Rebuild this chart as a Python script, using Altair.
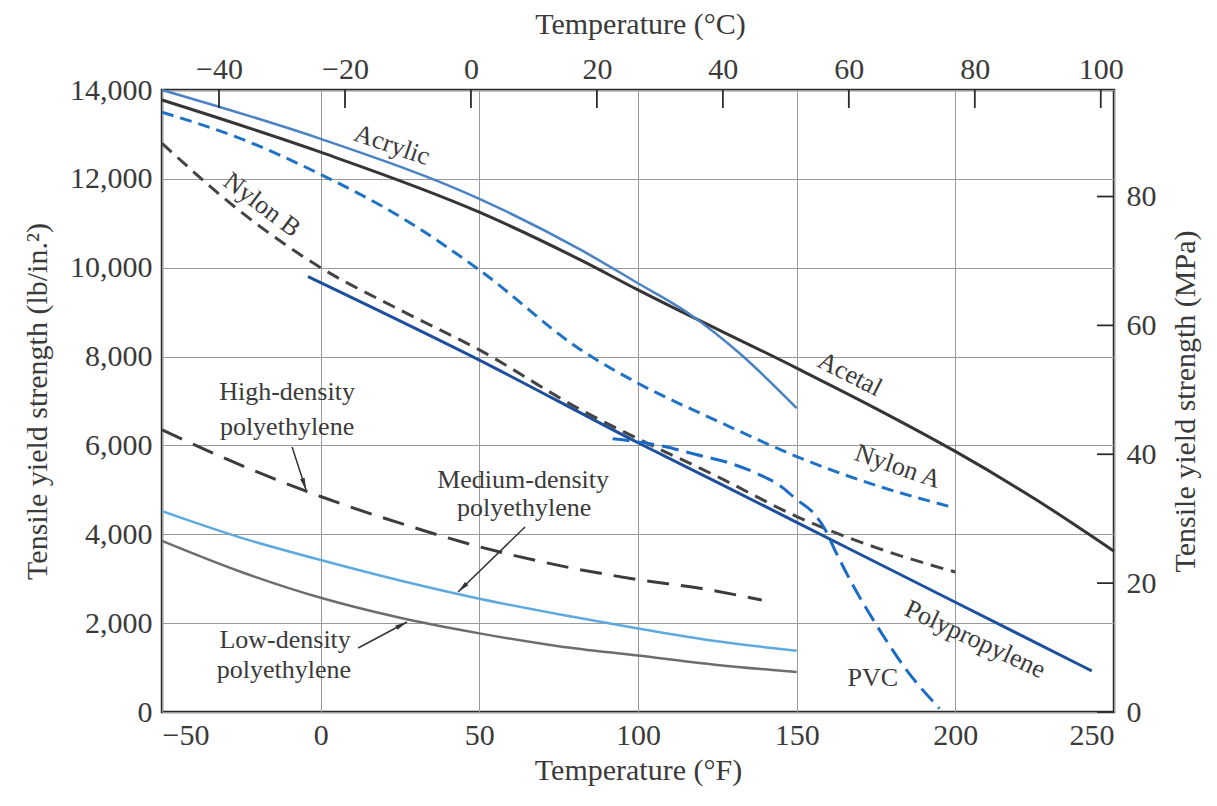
import math
import altair as alt
import pandas as pd

FONT = "Liberation Serif"
INK = "#3a3a3a"
W, H = 952, 622

# ---------------- axes ----------------
f_domain = [-50, 250]
psi_domain = [0, 14000]
f_ticks = [-50, 0, 50, 100, 150, 200, 250]
psi_ticks = [0, 2000, 4000, 6000, 8000, 10000, 12000, 14000]
c_domain = [-49.05, 102.1]
c_ticks = [-40, -20, 0, 20, 40, 60, 80, 100]
mpa_domain = [0, 96.53]
mpa_ticks = [0, 20, 40, 60, 80]

# ---------------- series (°F, psi) ----------------
acrylic_f = [-50, 0, 50, 82, 100, 116, 132, 150]
acrylic_psi = [14000, 12900, 11550, 10400, 9650, 8970, 8075, 6840]

acetal_f = [-50, 0, 50, 82, 100, 150, 175, 200, 225, 250]
acetal_psi = [13775, 12600, 11250, 10170, 9500, 7740, 6830, 5865, 4800, 3620]

nylon_a_f = [-50, -25, 0, 25, 50, 82, 100, 125, 150, 175, 198]
nylon_a_psi = [13500, 12900, 12100, 11150, 9950, 8150, 7400, 6550, 5750, 5100, 4630]

nylon_b_f = [-50, -25, 0, 25, 50, 82, 100, 125, 150, 175, 200]
nylon_b_psi = [12800, 11250, 10000, 9050, 8150, 6800, 6150, 5300, 4400, 3700, 3150]

polyprop_f = [-4, 50, 100, 125, 150, 200, 243]
polyprop_psi = [9800, 7920, 6060, 5170, 4270, 2470, 925]

pvc_f = [92, 100, 108, 118, 129, 138, 145, 150, 155, 159, 162, 168, 176, 185, 195]
pvc_psi = [6150, 6080, 5980, 5800, 5600, 5350, 5080, 4780, 4500, 4100, 3650, 2820, 1860, 910, 80]

hdpe_f = [-50, -25, 0, 25, 50, 75, 100, 120, 139]
hdpe_psi = [6350, 5550, 4850, 4250, 3720, 3300, 2980, 2780, 2520]

mdpe_f = [-50, -25, 0, 25, 50, 75, 100, 125, 150]
mdpe_psi = [4520, 3920, 3420, 2960, 2550, 2200, 1880, 1590, 1380]

ldpe_f = [-50, -25, 0, 25, 50, 75, 100, 125, 150]
ldpe_psi = [3850, 3150, 2570, 2120, 1770, 1480, 1270, 1060, 900]

# ---------------- annotations ----------------
label_text = ["Acrylic", "Nylon B", "Acetal", "Nylon A", "Polypropylene", "PVC",
              "High-density", "polyethylene", "Medium-density", "polyethylene",
              "Low-density", "polyethylene"]
label_f = [22.5, -18.5, 166.8, 181.9, 206.2, 174.0, -10.6, -10.6, 63.8, 64.1, -11.2, -11.6]
label_psi = [12760, 11413, 7600, 5528, 1636, 773, 7203, 6415, 5222, 4592, 1621, 945]
label_angle = [19, 37, 27, 19, 25, 0, 0, 0, 0, 0, 0, 0]

arrow_f = [-9.0, 64.4, 11.8]
arrow_psi = [5965, 4164, 1441]
arrow_f2 = [-4.6, 43.3, 27.2]
arrow_psi2 = [4997, 2701, 2026]

# ---------------- encodings ----------------
x_scale = alt.Scale(domain=f_domain, nice=False, zero=False)
y_scale = alt.Scale(domain=psi_domain, nice=False, zero=False)
x_enc = alt.X("F:Q", scale=x_scale,
              axis=alt.Axis(orient="bottom", values=f_ticks, ticks=False, tickSize=0, domain=False,
                            grid=True, gridColor="#9a9a9a", gridWidth=1,
                            labelFont=FONT, labelFontSize=30, labelColor=INK, labelPadding=8,
                            title="Temperature (°F)", titleFont=FONT, titleFontSize=30,
                            titleFontWeight="normal", titleColor=INK,
                            titleX=W / 2, titleY=67, titleBaseline="alphabetic", titleAlign="center"))
y_enc = alt.Y("psi:Q", scale=y_scale,
              axis=alt.Axis(orient="left", values=psi_ticks, format=",d", ticks=False, tickSize=0,
                            domain=False, grid=True, gridColor="#9a9a9a", gridWidth=1,
                            labelFont=FONT, labelFontSize=30, labelColor=INK, labelPadding=10,
                            title="Tensile yield strength (lb/in.²)", titleFont=FONT, titleFontSize=30,
                            titleFontWeight="normal", titleColor=INK,
                            titleX=-125, titleY=H / 2, titleAngle=270,
                            titleAlign="center", titleBaseline="middle"))


def series(fs, ps):
    return pd.DataFrame({"F": fs, "psi": ps})


def line(fs, ps, color, width, dash=None):
    kw = dict(color=color, strokeWidth=width, interpolate="monotone")
    if dash:
        kw["strokeDash"] = dash
    return alt.Chart(series(fs, ps)).mark_line(**kw).encode(x=x_enc, y=y_enc)


lines = [
    line(ldpe_f, ldpe_psi, "#6d6d6d", 2.5),
    line(mdpe_f, mdpe_psi, "#5ea9de", 2.5),
    line(hdpe_f, hdpe_psi, "#3c3c3c", 3, [22, 12]),
    line(polyprop_f, polyprop_psi, "#1d4f9c", 3),
    line(nylon_b_f, nylon_b_psi, "#444444", 3, [13, 8]),
    line(pvc_f, pvc_psi, "#1b6cc6", 3, [17, 8]),
    line(nylon_a_f, nylon_a_psi, "#1f72c4", 3, [12, 7]),
    line(acetal_f, acetal_psi, "#353535", 3),
    line(acrylic_f, acrylic_psi, "#4b82c3", 2.5),
]

labels_df = pd.DataFrame({"text": label_text, "F": label_f, "psi": label_psi, "angle": label_angle})
labels = alt.Chart(labels_df).mark_text(font=FONT, fontSize=26, color=INK, align="center",
                                        baseline="middle").encode(
    x=x_enc, y=y_enc, text="text:N", angle=alt.Angle("angle:Q", scale=None))

px_f = W / (f_domain[1] - f_domain[0])
px_psi = H / (psi_domain[1] - psi_domain[0])
head_angle = []
for f1, p1, f2, p2 in zip(arrow_f, arrow_psi, arrow_f2, arrow_psi2):
    dx = (f2 - f1) * px_f
    dy = -(p2 - p1) * px_psi
    head_angle.append(math.degrees(math.atan2(dx, -dy)) % 360)

shafts_df = pd.DataFrame({"F": arrow_f, "psi": arrow_psi, "F2": arrow_f2, "psi2": arrow_psi2})
shafts = alt.Chart(shafts_df).mark_rule(color="#333333", strokeWidth=1.5).encode(
    x=x_enc, y=y_enc, x2="F2:Q", y2="psi2:Q")

heads_df = pd.DataFrame({"F": arrow_f2, "psi": arrow_psi2, "angle": head_angle})
heads = alt.Chart(heads_df).mark_point(shape="M0,0L0.4,2L-0.4,2Z", filled=True, size=144,
                                       color="#333333", opacity=1).encode(
    x=x_enc, y=y_enc, angle=alt.Angle("angle:Q", scale=None))

main = alt.layer(*lines, shafts, heads, labels)

# top axis (°C) with inward ticks
top_df = pd.DataFrame({"C": c_ticks})
top = alt.Chart(top_df).mark_rule(color="#2b2b2b", strokeWidth=1.8).encode(
    x=alt.X("C:Q", scale=alt.Scale(domain=c_domain, nice=False, zero=False),
            axis=alt.Axis(orient="top", values=c_ticks, ticks=False, tickSize=0, domain=False, grid=False,
                          labelFont=FONT, labelFontSize=30, labelColor=INK, labelPadding=6,
                          title="Temperature (°C)", titleFont=FONT, titleFontSize=30,
                          titleFontWeight="normal", titleColor=INK,
                          titleX=478, titleY=-57, titleBaseline="alphabetic", titleAlign="center")),
    y=alt.value(0), y2=alt.value(18))

# right axis (MPa) with inward ticks
right_df = pd.DataFrame({"MPa": mpa_ticks})
right = alt.Chart(right_df).mark_rule(color="#2b2b2b", strokeWidth=1.8).encode(
    y=alt.Y("MPa:Q", scale=alt.Scale(domain=mpa_domain, nice=False, zero=False),
            axis=alt.Axis(orient="right", values=mpa_ticks, ticks=False, tickSize=0, domain=False, grid=False,
                          labelFont=FONT, labelFontSize=30, labelColor=INK, labelPadding=12,
                          title="Tensile yield strength (MPa)", titleFont=FONT, titleFontSize=30,
                          titleFontWeight="normal", titleColor=INK,
                          titleX=71, titleY=H / 2, titleAngle=270,
                          titleAlign="center", titleBaseline="middle")),
    x=alt.value(W - 17), x2=alt.value(W))

chart = alt.layer(main, top, right).resolve_scale(x="independent", y="independent").properties(
    width=W, height=H,
    padding={"left": 154, "top": 82, "right": 95, "bottom": 86},
    autosize=alt.AutoSizeParams(type="none"),
    background="white",
).configure_view(stroke="#2b2b2b", strokeWidth=2.5)

chart.save("out.html", embed_options={"renderer": "svg", "actions": False})
